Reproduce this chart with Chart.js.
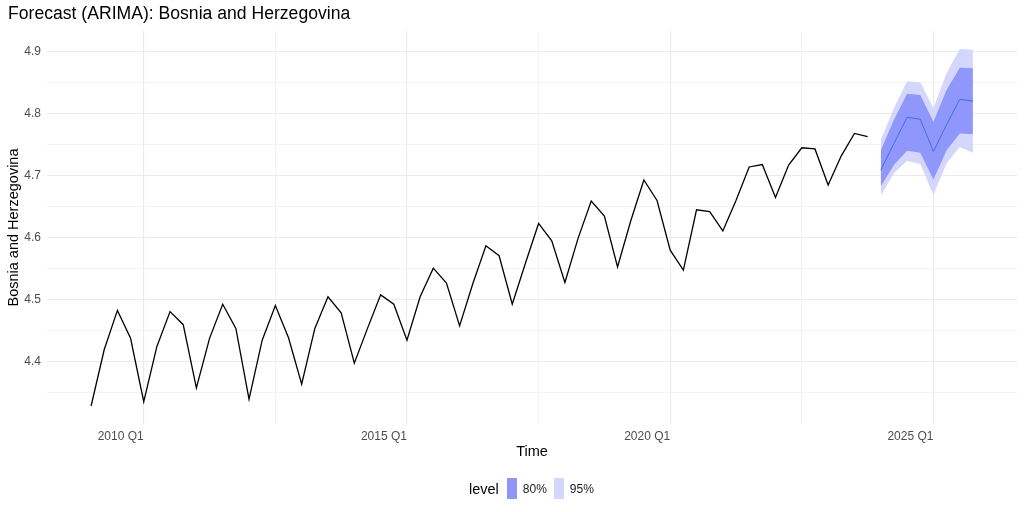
<!DOCTYPE html>
<html>
<head>
<meta charset="utf-8">
<script src="https://cdn.jsdelivr.net/npm/chart.js@4.4.1/dist/chart.umd.min.js"></script>
<style>
  html, body { margin: 0; padding: 0; background: #fff; }
  #wrap { position: relative; width: 1024px; height: 512px; font-family: "Liberation Sans", Arial, sans-serif; }
  #legend { position: absolute; left: 469px; top: 478px; height: 21px; display: flex; align-items: center; }
  #legend .ttl { font-size: 14.5px; color: #000; margin-right: 8px; }
  #legend .sw { width: 10px; height: 21px; display: inline-block; }
  #legend .lbl { font-size: 12px; color: #1a1a1a; margin: 0 7px 0 6px; }
</style>
</head>
<body>
<div id="wrap">
  <canvas id="fc" width="1024" height="512"></canvas>
  <div id="legend"></div>
</div>
<script>
// quarterly series, first value = 2009 Q1
const histStart = 2009;
const histValues = [
  4.329, 4.420, 4.483, 4.438,
  4.336, 4.425, 4.481, 4.460,
  4.358, 4.438, 4.493, 4.454,
  4.340, 4.435, 4.491, 4.439,
  4.364, 4.454, 4.505, 4.479,
  4.398, 4.454, 4.508, 4.493,
  4.435, 4.505, 4.551, 4.527,
  4.458, 4.526, 4.587, 4.571,
  4.493, 4.559, 4.623, 4.595,
  4.528, 4.599, 4.659, 4.635,
  4.553, 4.627, 4.693, 4.660,
  4.580, 4.548, 4.645, 4.642,
  4.611, 4.660, 4.714, 4.718,
  4.665, 4.717, 4.745, 4.743,
  4.685, 4.732, 4.768, 4.763
];

// forecast, first value = 2024 Q1
const fcStart = 2024;
const fcMean = [4.709, 4.752, 4.794, 4.791, 4.739, 4.782, 4.823, 4.820];
const fcLo80 = [4.683, 4.717, 4.740, 4.737, 4.694, 4.741, 4.768, 4.767];
const fcHi80 = [4.741, 4.790, 4.832, 4.830, 4.787, 4.838, 4.874, 4.873];
const fcLo95 = [4.668, 4.704, 4.724, 4.719, 4.669, 4.720, 4.746, 4.737];
const fcHi95 = [4.758, 4.809, 4.852, 4.850, 4.809, 4.865, 4.904, 4.903];

const levelLabels = ["80%", "95%"];
const levelColors = ["#8f97fb", "#d5d6fd"];

const xMajor = [2010, 2015, 2020, 2025];
const xMinor = [2012.5, 2017.5, 2022.5];
const yMajor = [4.4, 4.5, 4.6, 4.7, 4.8, 4.9];
const yMinor = [4.35, 4.45, 4.55, 4.65, 4.75, 4.85];

function toPoints(start, vals) {
  return vals.map((v, i) => ({ x: start + i / 4, y: v }));
}

function isMajor(list, v) {
  return list.some(m => Math.abs(m - v) < 1e-6);
}

const gridColor = "#ebebeb";
const fontFam = "'Liberation Sans', Arial, sans-serif";

new Chart(document.getElementById("fc"), {
  type: "line",
  data: {
    datasets: [
      { label: "series", data: toPoints(histStart, histValues), borderColor: "#000", borderWidth: 1.3, pointRadius: 0, fill: false },
      { label: "mean", data: toPoints(fcStart, fcMean), borderColor: "#3f6fe6", borderWidth: 1, pointRadius: 0, fill: false },
      { label: "hi80", data: toPoints(fcStart, fcHi80), borderWidth: 0, pointRadius: 0, backgroundColor: levelColors[0], fill: "+1" },
      { label: "lo80", data: toPoints(fcStart, fcLo80), borderWidth: 0, pointRadius: 0, fill: false },
      { label: "hi95", data: toPoints(fcStart, fcHi95), borderWidth: 0, pointRadius: 0, backgroundColor: levelColors[1], fill: "+1" },
      { label: "lo95", data: toPoints(fcStart, fcLo95), borderWidth: 0, pointRadius: 0, fill: false }
    ]
  },
  options: {
    responsive: false,
    animation: false,
    layout: { padding: { left: 8, right: 7, top: 0, bottom: 50 } },
    plugins: {
      legend: { display: false },
      tooltip: { enabled: false },
      title: {
        display: true,
        text: "Forecast (ARIMA): Bosnia and Herzegovina",
        align: "start",
        color: "#000",
        font: { family: fontFam, size: 17.6, weight: "normal" },
        padding: { top: 3.5, bottom: 6.4 }
      }
    },
    scales: {
      x: {
        type: "linear",
        min: 2008.1625,
        max: 2026.5875,
        border: { display: false },
        afterBuildTicks: s => { s.ticks = xMajor.concat(xMinor).sort((a, b) => a - b).map(v => ({ value: v })); },
        afterFit: s => { s.height = 38; },
        ticks: {
          autoSkip: false,
          maxRotation: 0,
          align: "end",
          padding: 5,
          color: "#4d4d4d",
          font: { family: fontFam, size: 12 },
          callback: v => isMajor(xMajor, v) ? v + " Q1" : ""
        },
        grid: {
          drawTicks: false,
          color: gridColor,
          lineWidth: c => isMajor(xMajor, c.tick.value) ? 1.1 : 0.6
        },
        title: {
          display: true,
          text: "Time",
          color: "#000",
          font: { family: fontFam, size: 14.5 },
          padding: { top: 0, bottom: 1 }
        }
      },
      y: {
        min: 4.300,
        max: 4.933,
        border: { display: false },
        afterBuildTicks: s => { s.ticks = yMajor.concat(yMinor).sort((a, b) => a - b).map(v => ({ value: v })); },
        afterFit: s => { s.width = 39; },
        ticks: {
          autoSkip: false,
          padding: 6,
          color: "#4d4d4d",
          font: { family: fontFam, size: 12 },
          callback: v => isMajor(yMajor, v) ? v.toFixed(1) : ""
        },
        grid: {
          drawTicks: false,
          color: gridColor,
          lineWidth: c => isMajor(yMajor, c.tick.value) ? 1.1 : 0.6
        },
        title: {
          display: true,
          text: "Bosnia and Herzegovina",
          color: "#000",
          font: { family: fontFam, size: 14.5, lineHeight: 0.86 },
          padding: { top: 0, bottom: 0 }
        }
      }
    }
  }
});

const legend = document.getElementById("legend");
let html = '<span class="ttl">level</span>';
levelLabels.forEach((l, i) => {
  html += '<span class="sw" style="background:' + levelColors[i] + '"></span><span class="lbl">' + l + '</span>';
});
legend.innerHTML = html;
</script>
</body>
</html>
